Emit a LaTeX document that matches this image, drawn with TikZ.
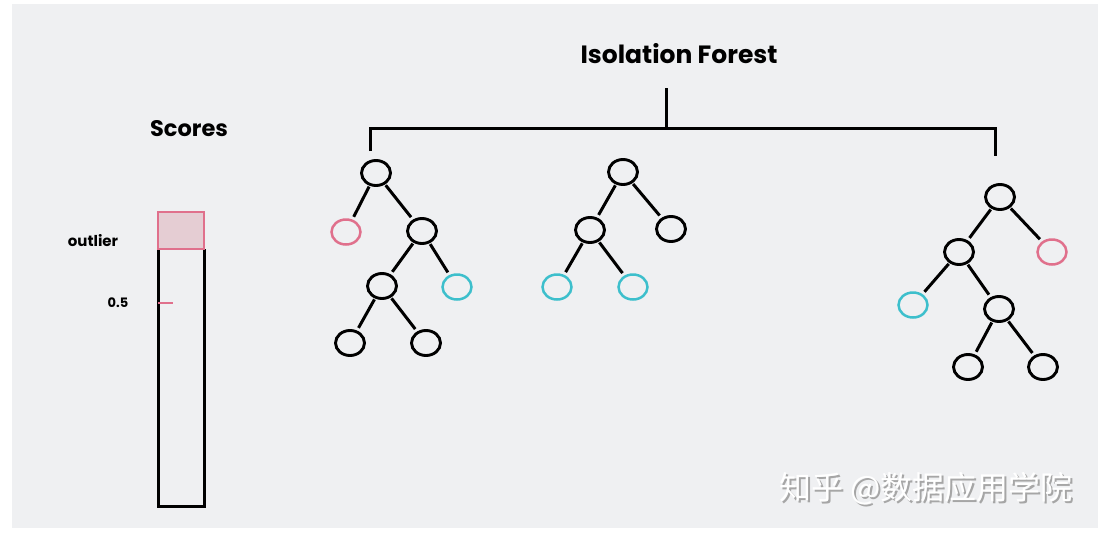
\documentclass[tikz,border=0pt]{standalone}
\usepackage{fontspec}
\setmainfont{Poppins}
\newfontfamily\cjk{Noto Sans CJK SC}
\usetikzlibrary{shapes.geometric}
\definecolor{panel}{HTML}{EFF0F2}
\definecolor{pinkc}{HTML}{E0708C}
\definecolor{pinkfill}{HTML}{E5CDD3}
\definecolor{cyanc}{HTML}{3DBFCC}
\tikzset{
  tn/.style={ellipse, draw=black, line width=2.9pt, minimum width=29pt, minimum height=25pt, inner sep=0pt},
  outl/.style={tn, draw=pinkc, line width=2.5pt},
  inl/.style={tn, draw=cyanc, line width=2.5pt},
  edge/.style={line width=3pt, black, shorten <=1pt, shorten >=3pt},
  lbl/.style={font=\bfseries, text=black},
}
\begin{document}
\begin{tikzpicture}[x=1pt,y=-1pt]
\useasboundingbox (0,0) rectangle (1108,536);
\fill[white] (0,0) rectangle (1108,536);
\fill[panel] (12,4) rectangle (1098,528);
% titles
\node[lbl, font=\bfseries\fontsize{25}{28}\selectfont] (title) at (679,54) {Isolation Forest};
\node[lbl, font=\bfseries\fontsize{22.5}{26}\selectfont] (scores) at (189,129) {Scores};
% bracket
\coordinate (bl) at (370,128);
\coordinate (br) at (995,128);
\coordinate (bm) at (666,130);
\coordinate (bt) at (666,88);
\coordinate (blb) at (370,151);
\coordinate (brb) at (995,156);
\draw[line width=3pt] (blb) -- (bl) -- (br) -- (brb);
\draw[line width=3pt] (bt) -- (bm);
% score bar
\draw[line width=3pt] (158,249) -- (158,506) -- (204,506) -- (204,249);
\draw[pinkc, fill=pinkfill, line width=2.5pt] (158,212) rectangle (204,249);
\coordinate (ta) at (158,303);
\coordinate (tb) at (173,303);
\draw[pinkc, line width=1.8pt] (ta) -- (tb);
\node[lbl, font=\bfseries\fontsize{15}{17}\selectfont] (outl) at (93,241) {outlier};
\node[lbl, font=\bfseries\fontsize{13}{15}\selectfont] (half) at (118,303) {0.5};
% tree 1
\node[tn] (a1) at (376,173) {};
\node[outl] (a2) at (346,232) {};
\node[tn] (a3) at (422,231) {};
\node[tn] (a4) at (382,286) {};
\node[inl] (a5) at (457,287) {};
\node[tn] (a6) at (350,343) {};
\node[tn] (a7) at (426,343) {};
\draw[edge] (a1) -- (a2);
\draw[edge] (a1) -- (a3);
\draw[edge] (a3) -- (a4);
\draw[edge] (a3) -- (a5);
\draw[edge] (a4) -- (a6);
\draw[edge] (a4) -- (a7);
% tree 2
\node[tn] (b1) at (623,172) {};
\node[tn] (b2) at (590,230) {};
\node[tn] (b3) at (671,229) {};
\node[inl] (b4) at (557,287) {};
\node[inl] (b5) at (633,287) {};
\draw[edge] (b1) -- (b2);
\draw[edge] (b1) -- (b3);
\draw[edge] (b2) -- (b4);
\draw[edge] (b2) -- (b5);
% tree 3
\node[tn] (c1) at (1000,197) {};
\node[tn] (c2) at (959,252) {};
\node[outl] (c3) at (1052,252) {};
\node[inl] (c4) at (913,305) {};
\node[tn] (c5) at (999,309) {};
\node[tn] (c6) at (968,367) {};
\node[tn] (c7) at (1043,367) {};
\draw[edge] (c1) -- (c2);
\draw[edge] (c1) -- (c3);
\draw[edge] (c2) -- (c4);
\draw[edge] (c2) -- (c5);
\draw[edge] (c5) -- (c6);
\draw[edge] (c5) -- (c7);
% watermark
\node[anchor=west, inner sep=0pt, text=black!35, font=\cjk\fontsize{32}{34}\selectfont] (wms) at (781,491) {知乎 @数据应用学院};
\node[anchor=west, inner sep=0pt, text=white, font=\cjk\fontsize{32}{34}\selectfont] (wm) at (779,489) {知乎 @数据应用学院};
\end{tikzpicture}
\end{document}
